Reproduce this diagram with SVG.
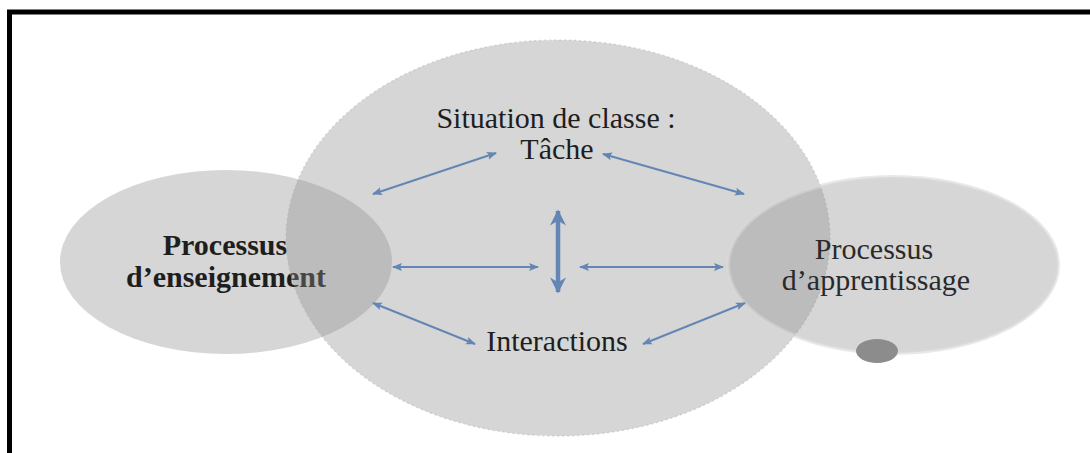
<svg xmlns="http://www.w3.org/2000/svg" width="1090" height="453" viewBox="0 0 1090 453">
<style>
.bub{fill:#8f8f8f;fill-opacity:0.37}
.t{font-family:"Liberation Serif",serif;font-size:30px;fill:#1e1e1e;text-anchor:middle}
.b{font-weight:bold}
.r{fill:#2a2a2a}
.c{stroke:#6386b4;stroke-width:2;fill:none;marker-start:url(#ah);marker-end:url(#ah)}
.k{stroke:#6386b4;stroke-width:4.5;fill:none;marker-start:url(#ahb);marker-end:url(#ahb)}
</style>
<defs>
<marker id="ah" viewBox="0 0 10 10" refX="9" refY="5" markerWidth="5" markerHeight="5" orient="auto-start-reverse" markerUnits="strokeWidth">
<path d="M0,1 L10,5 L0,9 L2,5 Z" fill="#6386b4"/>
</marker>
<marker id="ahb" viewBox="0 0 10 10" refX="9" refY="5" markerWidth="3.6" markerHeight="3.6" orient="auto-start-reverse" markerUnits="strokeWidth">
<path d="M0,0 L10,5 L0,10 L3,5 Z" fill="#6386b4"/>
</marker>
</defs>
<rect width="1090" height="453" fill="#ffffff"/>
<path d="M9.5,453 V12 H1090" fill="none" stroke="#000" stroke-width="5"/>
<g id="enseignement">
<ellipse class="bub" cx="226" cy="262" rx="166" ry="92"/>
<text class="t b" x="225" y="255">Processus</text>
<text class="t b" x="226" y="287">d’enseignement</text>
</g>
<g id="situation">
<ellipse class="bub" cx="558" cy="238" rx="272" ry="198" stroke="#a9b6c8" stroke-width="1.5" stroke-dasharray="2 3" stroke-opacity="0.45"/>
<text class="t" x="556" y="128">Situation de classe :</text>
<text class="t" x="557" y="159">Tâche</text>
</g>
<g id="apprentissage">
<ellipse class="bub" cx="893" cy="265" rx="165" ry="88" stroke="#d8d8d8" stroke-width="4" stroke-opacity="0.6"/>
<text class="t r" x="874" y="259">Processus</text>
<text class="t r" x="876" y="290">d’apprentissage</text>
<ellipse cx="877" cy="351" rx="21" ry="12" fill="#8c8c8c"/>
</g>
<g id="interactions">
<text class="t" x="557" y="351">Interactions</text>
</g>
<g id="connectors">
<line class="c" x1="373" y1="194" x2="496" y2="153"/>
<line class="c" x1="603" y1="154" x2="744" y2="194"/>
<line class="c" x1="393" y1="267" x2="538" y2="267"/>
<line class="c" x1="580" y1="267" x2="723" y2="267"/>
<line class="k" x1="558" y1="211" x2="558" y2="292"/>
<line class="c" x1="373" y1="303" x2="475" y2="344"/>
<line class="c" x1="643" y1="344" x2="745" y2="303"/>
</g>
</svg>
